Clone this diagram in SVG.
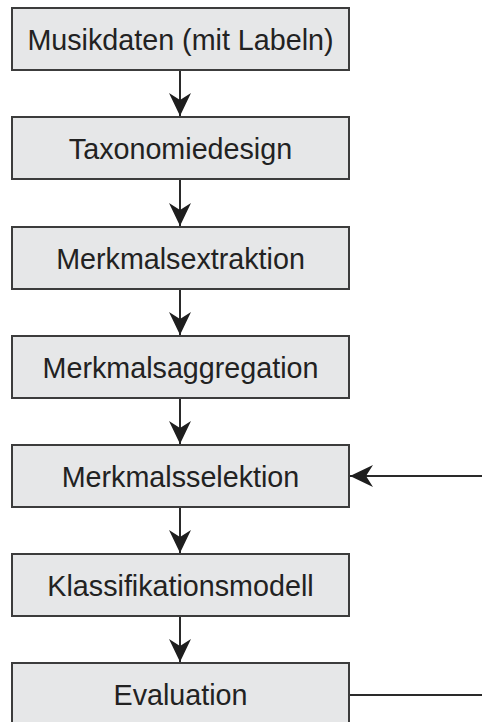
<svg xmlns="http://www.w3.org/2000/svg" width="482" height="722" viewBox="0 0 482 722">
  <style>
    .box { fill: #e6e7e8; stroke: #3c3c3c; stroke-width: 2; }
    .label { font-family: "Liberation Sans", Arial, sans-serif; font-size: 28.7px; fill: #222; text-anchor: middle; }
    .link { stroke: #2a2a2a; stroke-width: 2; fill: none; }
  </style>
  <defs>
    <marker id="head" markerUnits="userSpaceOnUse" markerWidth="24" markerHeight="24" viewBox="-24 -12 24 24" refX="0" refY="0" orient="auto">
      <path d="M0,0 L-23,-11 L-16,0 L-23,11 Z" fill="#1e1e1e"/>
    </marker>
  </defs>
  <rect width="482" height="722" fill="#fff"/>

  <!-- process steps -->
  <g id="n1"><rect class="box" x="12" y="8" width="337" height="62"/><text class="label" x="180.5" y="50">Musikdaten (mit Labeln)</text></g>
  <g id="n2"><rect class="box" x="12" y="117" width="337" height="62"/><text class="label" x="180.5" y="159">Taxonomiedesign</text></g>
  <g id="n3"><rect class="box" x="12" y="227" width="337" height="62"/><text class="label" x="180.5" y="269">Merkmalsextraktion</text></g>
  <g id="n4"><rect class="box" x="12" y="336" width="337" height="62"/><text class="label" x="180.5" y="378">Merkmalsaggregation</text></g>
  <g id="n5"><rect class="box" x="12" y="445" width="337" height="62"/><text class="label" x="180.5" y="487">Merkmalsselektion</text></g>
  <g id="n6"><rect class="box" x="12" y="554" width="337" height="62"/><text class="label" x="180.5" y="596">Klassifikationsmodell</text></g>
  <g id="n7"><rect class="box" x="12" y="663" width="337" height="62"/><text class="label" x="180.5" y="705">Evaluation</text></g>

  <!-- connectors -->
  <g id="links">
    <line class="link" x1="180" y1="71" x2="180" y2="116" marker-end="url(#head)"/>
    <line class="link" x1="180" y1="180" x2="180" y2="226" marker-end="url(#head)"/>
    <line class="link" x1="180" y1="290" x2="180" y2="335" marker-end="url(#head)"/>
    <line class="link" x1="180" y1="399" x2="180" y2="444" marker-end="url(#head)"/>
    <line class="link" x1="180" y1="508" x2="180" y2="553" marker-end="url(#head)"/>
    <line class="link" x1="180" y1="617" x2="180" y2="662" marker-end="url(#head)"/>
    <line class="link" x1="482" y1="476" x2="350" y2="476" marker-end="url(#head)"/>
    <line class="link" x1="350" y1="695" x2="482" y2="695"/>
  </g>
</svg>
